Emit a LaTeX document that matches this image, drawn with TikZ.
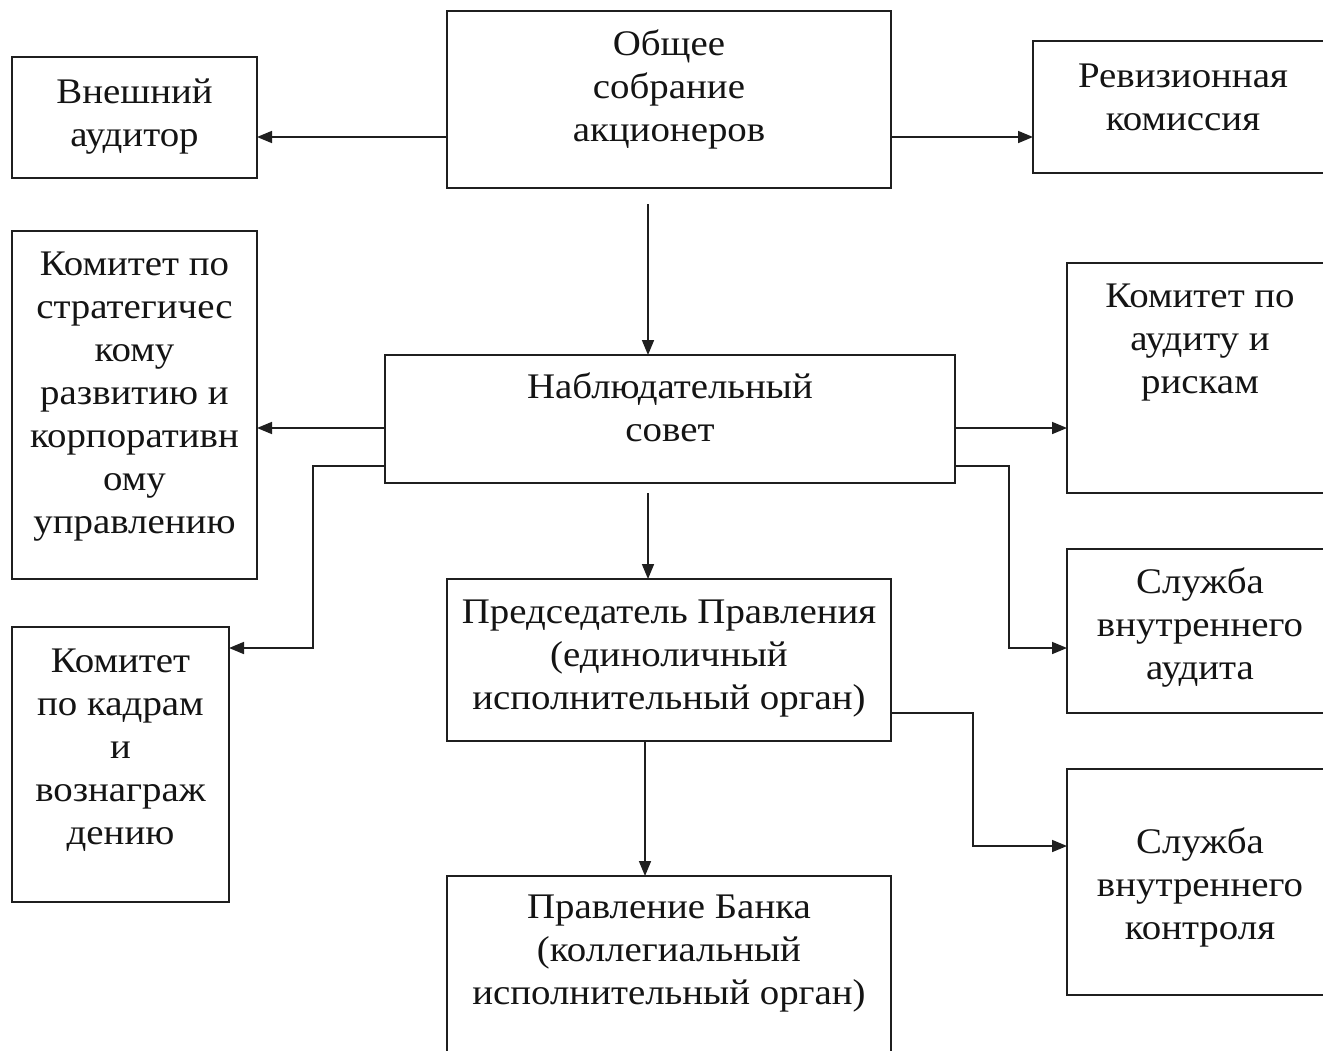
\documentclass[tikz,border=0pt]{standalone}
\usepackage{fontspec}
\setmainfont[FakeStretch=1.08]{Liberation Serif}
\usetikzlibrary{arrows.meta}
\begin{document}
\begin{tikzpicture}[x=1pt,y=-1pt,
  box/.style={draw=black!88, line width=1.6pt, inner sep=0pt, outer sep=0pt, anchor=north west},
  txt/.style={align=center, inner sep=0pt, anchor=north, text=black!92, font=\fontsize{36}{43}\selectfont},
  arr/.style={draw=black!88, line width=1.6pt, -{Triangle[length=15pt,width=12pt]}}]
\useasboundingbox (0,0) rectangle (1323,1050);
\fill[white] (0,0) rectangle (1323,1050);
\begin{scope}
\clip (0,0) rectangle (1323,1050);
% boxes
\node[box, minimum width=444pt, minimum height=177pt] (obsh) at (447,11) {};
\node[box, minimum width=245pt, minimum height=121pt] (vn) at (12,57) {};
\node[box, minimum width=300pt, minimum height=132pt] (rev) at (1033,41) {};
\node[box, minimum width=245pt, minimum height=348pt] (strat) at (12,231) {};
\node[box, minimum width=570pt, minimum height=128pt] (nabl) at (385,355) {};
\node[box, minimum width=266pt, minimum height=230pt] (aud) at (1067,263) {};
\node[box, minimum width=266pt, minimum height=164pt] (sva) at (1067,549) {};
\node[box, minimum width=217pt, minimum height=275pt] (kadr) at (12,627) {};
\node[box, minimum width=444pt, minimum height=162pt] (pred) at (447,579) {};
\node[box, minimum width=266pt, minimum height=226pt] (svk) at (1067,769) {};
\node[box, minimum width=444pt, minimum height=190pt] (pravl) at (447,876) {};
% texts
\node[txt] (tobsh) at ([yshift=-14pt]obsh.north) {\strut Общее\\собрание\\акционеров};
\node[txt] (tvn) at ([yshift=-16pt]vn.north) {\strut Внешний\\аудитор};
\node[txt] (trev) at ([yshift=-16pt]rev.north) {\strut Ревизионная\\комиссия};
\node[txt] (tstrat) at ([yshift=-14pt]strat.north) {\strut Комитет по\\стратегичес\\кому\\развитию и\\корпоративн\\ому\\управлению};
\node[txt] (tnabl) at ([yshift=-13pt]nabl.north) {\strut Наблюдательный\\совет};
\node[txt] (taud) at ([yshift=-14pt]aud.north) {\strut Комитет по\\аудиту и\\рискам};
\node[txt] (tsva) at ([yshift=-14pt]sva.north) {\strut Служба\\внутреннего\\аудита};
\node[txt] (tkadr) at ([yshift=-15pt]kadr.north) {\strut Комитет\\по кадрам\\и\\вознаграж\\дению};
\node[txt] (tpred) at ([yshift=-14pt]pred.north) {\strut Председатель Правления\\(единоличный\\исполнительный орган)};
\node[txt] (tsvk) at ([yshift=-54pt]svk.north) {\strut Служба\\внутреннего\\контроля};
\node[txt] (tpravl) at ([yshift=-12pt]pravl.north) {\strut Правление Банка\\(коллегиальный\\исполнительный орган)};
% connectors
\draw[arr] (obsh.west |- 0,137) -- (vn.east |- 0,137);
\draw[arr] (obsh.east |- 0,137) -- (rev.west |- 0,137);
\coordinate (c1) at (648,204);
\draw[arr] (c1) -- (c1 |- nabl.north);
\draw[arr] (nabl.west |- 0,428) -- (strat.east |- 0,428);
\draw[arr] (nabl.west |- 0,466) -- (313,466) -- (313,648) -- (kadr.east |- 0,648);
\draw[arr] (nabl.east |- 0,428) -- (aud.west |- 0,428);
\draw[arr] (nabl.east |- 0,466) -- (1009,466) -- (1009,648) -- (sva.west |- 0,648);
\coordinate (c2) at (648,493);
\draw[arr] (c2) -- (c2 |- pred.north);
\draw[arr] (pred.east |- 0,713) -- (973,713) -- (973,846) -- (svk.west |- 0,846);
\draw[arr] (pred.south -| 645,0) -- (pravl.north -| 645,0);
\end{scope}
\end{tikzpicture}
\end{document}
